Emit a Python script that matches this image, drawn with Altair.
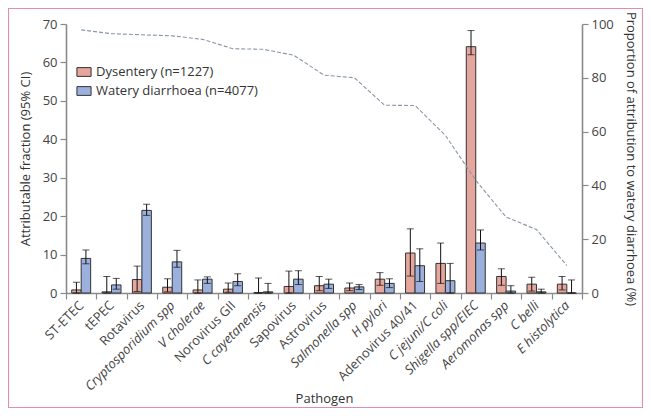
import altair as alt
import pandas as pd

categories = ["ST-ETEC", "tEPEC", "Rotavirus", "Cryptosporidium spp", "V cholerae",
              "Norovirus GII", "C cayetanensis", "Sapovirus", "Astrovirus", "Salmonella spp",
              "H pylori", "Adenovirus 40/41", "C jejuni/C coli", "Shigella spp/EIEC",
              "Aeromonas spp", "C belli", "E histolytica"]
italic_labels = ["Cryptosporidium spp", "V cholerae", "C cayetanensis", "Salmonella spp",
                 "H pylori", "C jejuni/C coli", "Shigella spp/EIEC", "Aeromonas spp",
                 "C belli", "E histolytica"]

series = ["Dysentery (n=1227)", "Watery diarrhoea (n=4077)"]

dys_val = [0.8, 0.3, 3.5, 1.5, 0.8, 1.0, 0.1, 1.7, 1.9, 1.3, 3.6, 10.4, 7.7, 64.1, 4.3, 2.3, 2.3]
dys_lo = [0.0, 0.0, 0.4, 0.3, 0.0, 0.2, 0.0, 0.0, 0.6, 0.6, 2.0, 4.4, 2.5, 62.0, 2.0, 0.5, 0.8]
dys_hi = [2.8, 4.3, 7.0, 3.7, 3.4, 2.6, 3.9, 5.7, 4.3, 2.6, 5.3, 16.7, 13.0, 68.3, 6.3, 4.1, 4.3]

wat_val = [9.0, 2.1, 21.5, 8.1, 3.6, 3.0, 0.3, 3.6, 2.3, 1.6, 2.5, 7.1, 3.2, 13.0, 0.5, 0.3, 0.0]
wat_lo = [7.6, 1.0, 20.2, 6.7, 2.5, 1.9, 0.0, 2.2, 1.2, 0.9, 1.4, 3.0, 0.0, 11.2, 0.0, 0.0, 0.0]
wat_hi = [11.2, 3.8, 23.1, 11.1, 4.2, 5.0, 2.5, 5.8, 3.6, 2.2, 3.7, 11.5, 7.7, 16.4, 1.9, 1.0, 3.4]

prop_watery = [97.8, 96.4, 96.0, 95.6, 94.3, 90.8, 90.6, 88.4, 81.0, 80.0, 69.8, 69.7,
               58.6, 41.9, 28.2, 23.6, 10.2]

rows = []
for i, c in enumerate(categories):
    rows.append({"Pathogen": c, "Group": series[0], "val": dys_val[i], "lo": dys_lo[i], "hi": dys_hi[i]})
    rows.append({"Pathogen": c, "Group": series[1], "val": wat_val[i], "lo": wat_lo[i], "hi": wat_hi[i]})
bars_df = pd.DataFrame(rows)
line_df = pd.DataFrame({"Pathogen": categories, "prop": prop_watery})
frame_df = pd.DataFrame({"k": [0]})

FONT = "Open Sans"
italic_expr = "indexof(" + str(italic_labels).replace("'", "\"") + ", datum.value) >= 0 ? 'italic' : 'normal'"

x_axis = alt.Axis(title="Pathogen", labelAngle=-45, labelAlign="right",
                  labelBaseline="middle", labelPadding=4, tickBand="extent",
                  labelFontStyle={"expr": italic_expr},
                  titleY=105, titleBaseline="middle")
x_scale = alt.Scale(paddingInner=0, paddingOuter=0)
x_enc = alt.X("Pathogen:N", sort=categories, scale=x_scale, axis=x_axis)

y_axis = alt.Axis(title="Attributable fraction (95% CI)", values=[0, 10, 20, 30, 40, 50, 60, 70],
                  titlePadding=10)
yscale = alt.Scale(domain=[0, 70], nice=False)

xoff = alt.XOffset("Group:N", sort=series,
                   scale=alt.Scale(domain=series, paddingInner=0, paddingOuter=0.6))
color = alt.Color("Group:N", sort=series,
                  scale=alt.Scale(domain=series, range=["#e5a79d", "#9bb0dc"]),
                  legend=alt.Legend(title=None, orient="none", legendX=10, legendY=40,
                                    symbolType="M-1,-0.62H1V0.62H-1Z", symbolSize=200,
                                    symbolStrokeColor="#333333", symbolStrokeWidth=1,
                                    labelFontSize=13, labelFont=FONT, labelColor="#333333",
                                    labelLimit=400, rowPadding=4))

bars = alt.Chart(bars_df).mark_bar(stroke="#333333", strokeWidth=1).encode(
    x=x_enc,
    xOffset=xoff,
    y=alt.Y("val:Q", scale=yscale, axis=y_axis),
    color=color,
)
rules = alt.Chart(bars_df).mark_rule(color="#111111", strokeWidth=1).encode(
    x=x_enc, xOffset=xoff,
    y=alt.Y("lo:Q", scale=yscale, axis=y_axis), y2="hi:Q")
cap_hi = alt.Chart(bars_df).mark_tick(color="#111111", thickness=1, size=7).encode(
    x=x_enc, xOffset=xoff, y=alt.Y("hi:Q", scale=yscale, axis=y_axis))
cap_lo = alt.Chart(bars_df).mark_tick(color="#111111", thickness=1, size=7).encode(
    x=x_enc, xOffset=xoff, y=alt.Y("lo:Q", scale=yscale, axis=y_axis))

left = alt.layer(bars, rules, cap_hi, cap_lo)

line = alt.Chart(line_df).mark_line(color="#8a96a8", strokeWidth=1.1, strokeDash=[4, 2]).encode(
    x=x_enc,
    y=alt.Y("prop:Q", scale=alt.Scale(domain=[0, 100], nice=False),
            axis=alt.Axis(orient="right", title="Proportion of attribution to watery diarrhoea (%)",
                          values=[0, 20, 40, 60, 80, 100], titlePadding=10, titleAngle=90)))

frame = alt.Chart(frame_df).mark_rect(fill=None, stroke="#dc8fae", strokeWidth=1.2, clip=False).encode(
    x=alt.value(-57.5), x2=alt.value(576.5), y=alt.value(-15.5), y2=alt.value(383.5))

chart = alt.layer(left, line, frame).resolve_scale(y="independent").properties(
    width=516, height=269,
    padding={"left": 58, "top": 16, "right": 61, "bottom": 116},
    autosize=alt.AutoSizeParams(type="none"),
).configure_view(stroke=None).configure_axis(
    labelFont=FONT, titleFont=FONT, labelFontSize=13, titleFontSize=13,
    labelColor="#444444", titleColor="#333333", titleFontWeight="normal",
    domainColor="#8a8a8a", domainWidth=1.6, tickColor="#8a8a8a", tickWidth=1.2, tickSize=6,
    grid=False, labelPadding=3,
)

chart.save("out.html", embed_options={"renderer": "svg", "actions": False})
